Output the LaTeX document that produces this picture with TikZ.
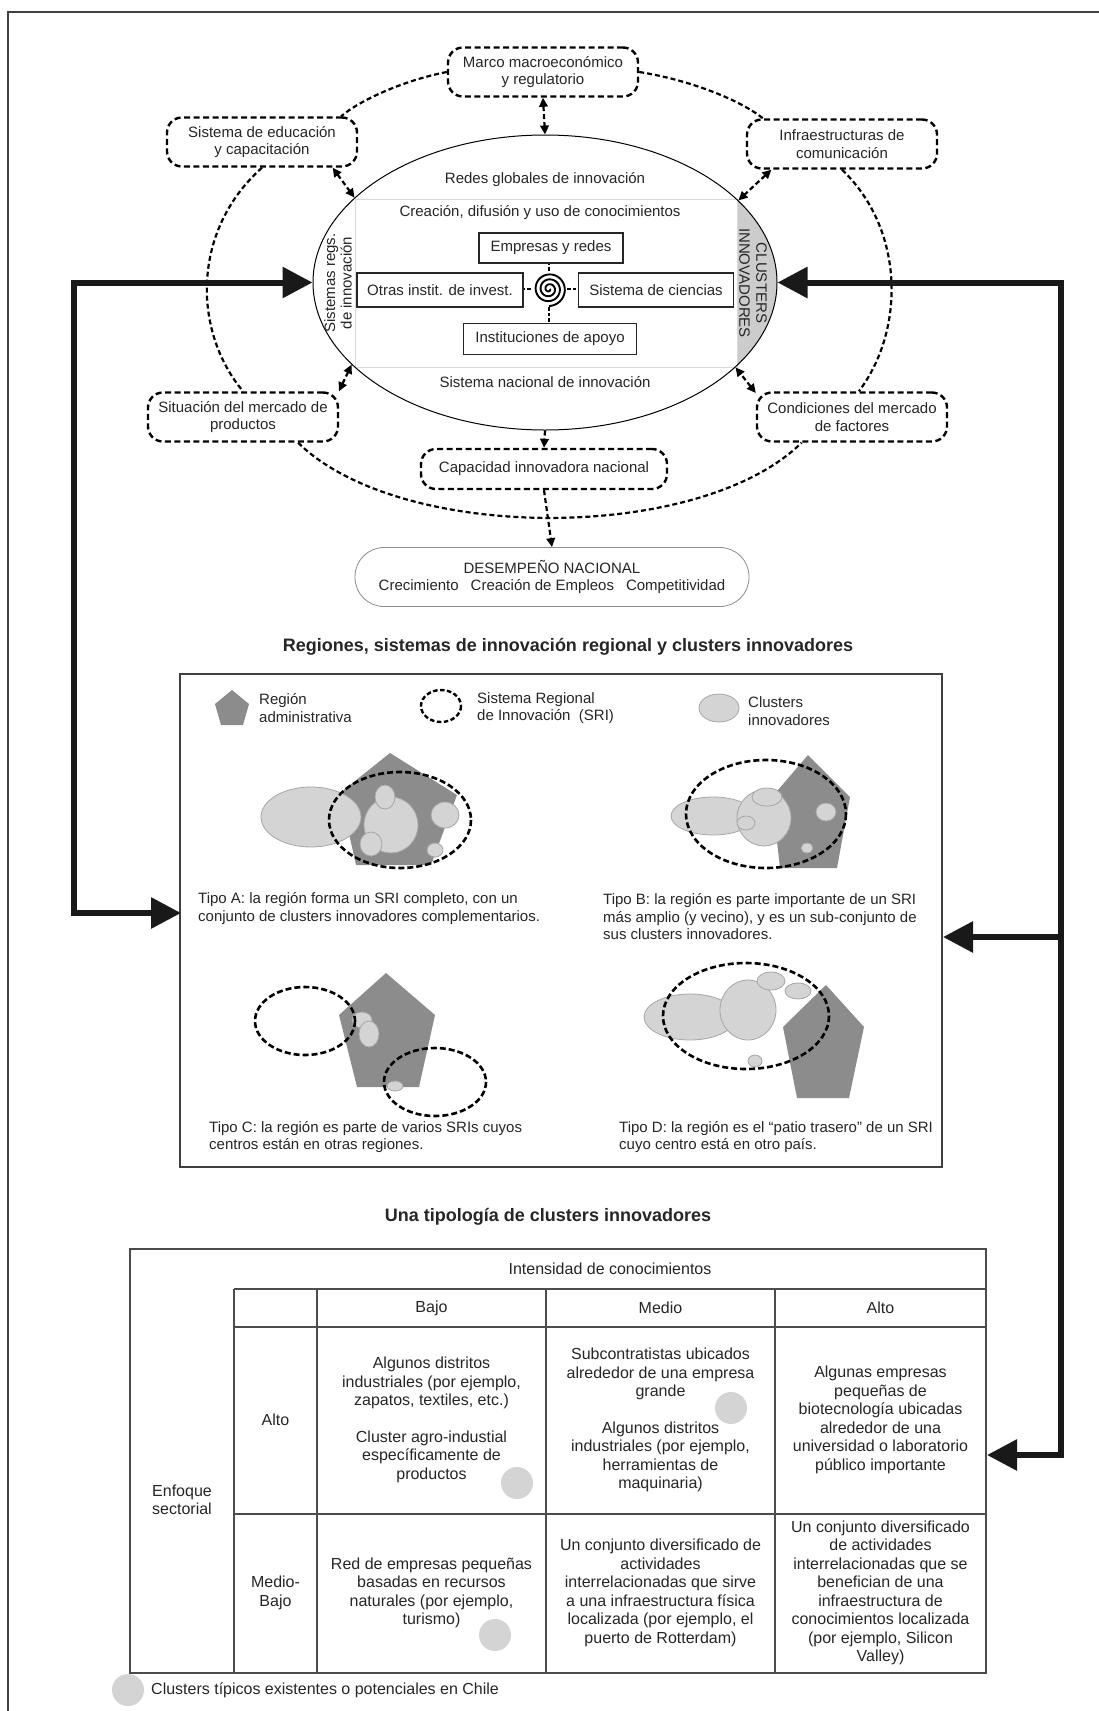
\documentclass[tikz,border=0pt]{standalone}
\usepackage{fontspec}
\setmainfont{Liberation Sans}
\usetikzlibrary{shapes.geometric,arrows.meta}
\tikzset{
  BigTri/.tip={Triangle[length=30pt,width=30pt]},
  SmTri/.tip={Triangle[length=9pt,width=8.5pt]},
}
\newcommand\fsA{\fontsize{15}{17.5}\selectfont}
\newcommand\fsB{\fontsize{16}{18.5}\selectfont}
\newcommand\fsT{\bfseries\fontsize{18}{21}\selectfont}
\begin{document}
\begin{tikzpicture}[x=1pt,y=-1pt,
  every node/.style={text=black!85, inner sep=0pt, align=center, font=\fsA},
  dbox/.style={draw=black, line width=2.4pt, dash pattern=on 6pt off 3.5pt, rounded corners=15pt, minimum width=190pt, minimum height=49pt},
  ibox/.style={draw=black!85, line width=1.3pt, fill=white, minimum height=32pt},
  dlink/.style={draw=black, line width=2.2pt, dash pattern=on 5pt off 3pt},
  bigline/.style={draw=black!90, line width=6pt, line join=miter},
  srionda/.style={draw=black, line width=2.6pt, dash pattern=on 6pt off 3pt},
  clus/.style={fill=black!17, draw=black!35, line width=0.8pt},
  pentfill/.style={fill=black!45},
  tabline/.style={draw=black!70, line width=1.3pt},
  ttl/.style={font=\fsT},
  celltxt/.style={font=\fsB},
  captxt/.style={align=left, anchor=west},
]
\useasboundingbox (0,0) rectangle (1099,1711);
\fill[white] (0,0) rectangle (1099,1711);
% page frame
\draw[black!75, line width=2pt] (8,1711) -- (8,12) -- (1099,12);

% ===== national innovation system =====
\begin{scope}
  \clip (737,120) rectangle (800,450);
  \fill[black!20] (545,282.5) ellipse [x radius=232, y radius=147.5];
\end{scope}
\node[draw=black!15, line width=1pt, minimum width=382pt, minimum height=168pt] (core) at (546,283) {};
\node[ellipse, draw=black, line width=1pt, minimum width=464pt, minimum height=295pt] (nis) at (545,282.5) {};

\node (redes) at (545,180) {Redes globales de innovación};
\node (crea) at (540,213) {Creación, difusión y uso de conocimientos};
\node (snac) at (545,382) {Sistema nacional de innovación};
\node[rotate=90, font=\fontsize{15}{16.5}\selectfont] (sri) at (338,283) {Sistemas regs.\\de innovación};
\node[rotate=-90, font=\fontsize{15}{17}\selectfont] (clu) at (753,283) {CLUSTERS\\INNOVADORES};

\node[ibox, minimum width=144pt, minimum height=30pt] (emp) at (551,248) {Empresas y redes};
\node[ibox, minimum width=166pt, minimum height=34pt] (otr) at (440,290) {Otras instit. de invest.};
\node[ibox, minimum width=155pt, minimum height=34pt] (cie) at (656,290) {Sistema de ciencias};
\node[ibox, minimum width=173pt, minimum height=31pt] (ins) at (550,339) {Instituciones de apoyo};

% knowledge spiral in the middle
\node[circle, minimum size=36pt] (spi) at (549,289) {};
\draw[line width=1.9pt] plot[domain=0:1170, samples=180, smooth, variable=\t]
  ({549+(1+\t/73)*cos(\t)}, {289+(1+\t/73)*sin(\t)});
\begin{scope}[line width=1.9pt, dash pattern=on 3.5pt off 2pt]
  \draw (spi.north) -- (spi.north |- emp.south);
  \draw (spi.south) -- (spi.south |- ins.north);
  \draw (spi.west) -- (otr.east |- spi.west);
  \draw (spi.east) -- (cie.west |- spi.east);
\end{scope}

% ===== framework conditions =====
\node[dbox] (marco) at (543,72) {Marco macroeconómico\\y regulatorio};
\node[dbox] (educ) at (262,142) {Sistema de educación\\y capacitación};
\node[dbox] (infra) at (842,144) {Infraestructuras de\\comunicación};
\node[dbox] (situ) at (243,417) {Situación del mercado de\\productos};
\node[dbox] (cond) at (852,417) {Condiciones del mercado\\de factores};
\node[dbox, minimum width=246pt, minimum height=40pt] (capac) at (544,469) {Capacidad innovadora nacional};
\node[draw=black!45, line width=0.8pt, rounded corners=29pt, minimum width=394pt, minimum height=59pt] (desemp) at (552,577)
  {DESEMPEÑO NACIONAL\\Crecimiento\hspace{12pt}Creación de Empleos\hspace{12pt}Competitividad};

% outer loop of dashed arcs
\draw[dlink] (marco.west) .. controls (405,80) and (360,100) .. (educ.18);
\draw[dlink] (marco.east) .. controls (690,80) and (740,100) .. (infra.162);
\draw[dlink] (educ.south) .. controls (192,230) and (192,330) .. (situ.north);
\draw[dlink] (infra.south) .. controls (905,230) and (905,330) .. (cond.75);
\draw[dlink] (situ.335) .. controls (400,543) and (700,543) .. (cond.207);

% links between conditions and the system
\draw[dlink, {SmTri}-{SmTri}] (marco.south) -- (nis.north);
\draw[dlink, {SmTri}-{SmTri}] (educ.340) -- (nis.156.3);
\draw[dlink, {SmTri}-{SmTri}] (infra.200) -- (nis.23.7);
\draw[dlink, {SmTri}-{SmTri}] (situ.15) -- (nis.203.7);
\draw[dlink, {SmTri}-{SmTri}] (cond.166) -- (nis.336.3);
\draw[dlink, -{SmTri}] (nis.south) -- (capac.north);
\draw[dlink, -{SmTri}] (capac.south) -- (desemp.north);

% ===== regions panel =====
\node[ttl] (t1) at (568,647) {Regiones, sistemas de innovación regional y clusters innovadores};
\node[draw=black!75, line width=1.6pt, minimum width=762pt, minimum height=493pt] (regbox) at (561,920.5) {};

% legend
\fill[pentfill] (232,690) -- (249,704) -- (243,725) -- (221,725) -- (215,704) -- cycle;
\node[captxt] (lgreg) at (259,708) {Región\\administrativa};
\draw[srionda, line width=2.4pt, dash pattern=on 4.5pt off 2.5pt] (441,706) ellipse [x radius=20, y radius=16];
\node[captxt] (lgsri) at (477,708) {Sistema Regional\\de Innovación\ \ (SRI)};
\draw[clus] (719,708) ellipse [x radius=20, y radius=14];
\node[captxt] (lgcl) at (748,711) {Clusters\\innovadores};

% type A
\fill[pentfill] (390,753) -- (457,795) -- (431,865) -- (356,865) -- (340,793) -- cycle;
\draw[clus] (311,817) ellipse [x radius=50, y radius=30];
\draw[clus] (391,825) ellipse [x radius=27, y radius=28];
\draw[clus] (385,797) ellipse [x radius=10, y radius=12];
\draw[clus] (445,815) ellipse [x radius=14, y radius=13];
\draw[clus] (371,844) ellipse [x radius=11, y radius=12];
\draw[clus] (435,850) ellipse [x radius=8, y radius=7];
\draw[srionda] (400,820) ellipse [x radius=71, y radius=48];
\node[captxt] (capA) at (198,908.5) {Tipo A: la región forma un SRI completo, con un\\conjunto de clusters innovadores complementarios.};

% type B
\fill[pentfill] (808,755) -- (850,797) -- (837,868) -- (780,868) -- (772,797) -- cycle;
\draw[clus] (713,816) ellipse [x radius=42, y radius=19];
\draw[clus] (764,818) ellipse [x radius=27, y radius=28];
\draw[clus] (767,797) ellipse [x radius=15, y radius=9];
\draw[clus] (746,823) ellipse [x radius=9, y radius=7];
\draw[clus] (826,812) ellipse [x radius=10, y radius=9];
\draw[clus] (807,848) ellipse [x radius=6, y radius=5];
\draw[srionda] (766,814) ellipse [x radius=80, y radius=54];
\node[captxt] (capB) at (603,917) {Tipo B: la región es parte importante de un SRI\\más amplio (y vecino), y es un sub-conjunto de\\sus clusters innovadores.};

% type C
\fill[pentfill] (386,973) -- (435,1015) -- (419,1087) -- (357,1087) -- (339,1015) -- cycle;
\draw[clus] (362,1020) ellipse [x radius=10, y radius=8];
\draw[clus] (369,1034) ellipse [x radius=10, y radius=13];
\draw[clus] (395,1086) ellipse [x radius=8, y radius=5];
\draw[srionda] (305,1021) ellipse [x radius=50, y radius=34];
\draw[srionda] (435,1082) ellipse [x radius=51, y radius=34];
\node[captxt] (capC) at (209,1137) {Tipo C: la región es parte de varios SRIs cuyos\\centros están en otras regiones.};

% type D
\fill[pentfill] (826,985) -- (864,1027) -- (849,1098) -- (797,1098) -- (783,1027) -- cycle;
\draw[clus] (690,1017) ellipse [x radius=46, y radius=23];
\draw[clus] (748,1010) ellipse [x radius=28, y radius=30];
\draw[clus] (771,981) ellipse [x radius=14, y radius=9];
\draw[clus] (798,991) ellipse [x radius=13, y radius=8];
\draw[clus] (755,1061) ellipse [x radius=7, y radius=6];
\draw[srionda] (746,1016) ellipse [x radius=83, y radius=53];
\node[captxt] (capD) at (619,1137) {Tipo D: la región es el “patio trasero” de un SRI\\cuyo centro está en otro país.};

% ===== typology table =====
\node[ttl] (t2) at (548,1217) {Una tipología de clusters innovadores};
\draw[tabline] (130,1249) rectangle (986,1673);
\draw[tabline] (234,1289) -- (986,1289);
\draw[tabline, line width=1.7pt] (234,1327) -- (986,1327);
\draw[tabline, line width=1.7pt] (234,1514) -- (986,1514);
\foreach \cx in {234,317,546,775} \draw[tabline] (\cx,1289) -- (\cx,1673);

\fill[black!17] (517,1483) circle [radius=16];
\fill[black!17] (731,1408) circle [radius=16];
\fill[black!17] (495,1635) circle [radius=16];
\fill[black!17] (128,1690) circle [radius=16];

\node[celltxt] (hint) at (610,1269) {Intensidad de conocimientos};
\node[celltxt] (hb) at (431.5,1308) {Bajo};
\node[celltxt] (hm) at (660.5,1308) {Medio};
\node[celltxt] (ha) at (880.5,1308) {Alto};
\node[celltxt] (enf) at (182,1500) {Enfoque\\sectorial};
\node[celltxt] (ra) at (275.5,1420) {Alto};
\node[celltxt] (rm) at (275.5,1593) {Medio-\\Bajo};

\node[celltxt] (c11) at (431.5,1420) {Algunos distritos\\industriales (por ejemplo,\\zapatos, textiles, etc.)\\[18pt]Cluster agro-industial\\específicamente de\\productos};
\node[celltxt] (c12) at (660.5,1420) {Subcontratistas ubicados\\alrededor de una empresa\\grande\\[18pt]Algunos distritos\\industriales (por ejemplo,\\herramientas de\\maquinaria)};
\node[celltxt] (c13) at (880.5,1420) {Algunas empresas\\pequeñas de\\biotecnología ubicadas\\alrededor de una\\universidad o laboratorio\\público importante};
\node[celltxt] (c21) at (431.5,1593) {Red de empresas pequeñas\\basadas en recursos\\naturales (por ejemplo,\\turismo)};
\node[celltxt] (c22) at (660.5,1593) {Un conjunto diversificado de\\actividades\\interrelacionadas que sirve\\a una infraestructura física\\localizada (por ejemplo, el\\puerto de Rotterdam)};
\node[celltxt] (c23) at (880.5,1593) {Un conjunto diversificado\\de actividades\\interrelacionadas que se\\benefician de una\\infraestructura de\\conocimientos localizada\\(por ejemplo, Silicon\\Valley)};
\node[celltxt, anchor=west] (lgchile) at (151,1690) {Clusters típicos existentes o potenciales en Chile};

% ===== feedback arrows =====
\coordinate (lsp) at (74,600);
\coordinate (tipA) at (181,913);
\coordinate (rsp) at (1061,900);
\coordinate (tipB) at (943,937);
\coordinate (tipT) at (987,1455);
\draw[bigline, {BigTri}-{BigTri}] (nis.west) -| (lsp) |- (tipA);
\draw[bigline, {BigTri}-{BigTri}] (nis.east) -| (rsp) |- (tipT);
\draw[bigline, -{BigTri}] (rsp |- tipB) -- (tipB);
\end{tikzpicture}
\end{document}
